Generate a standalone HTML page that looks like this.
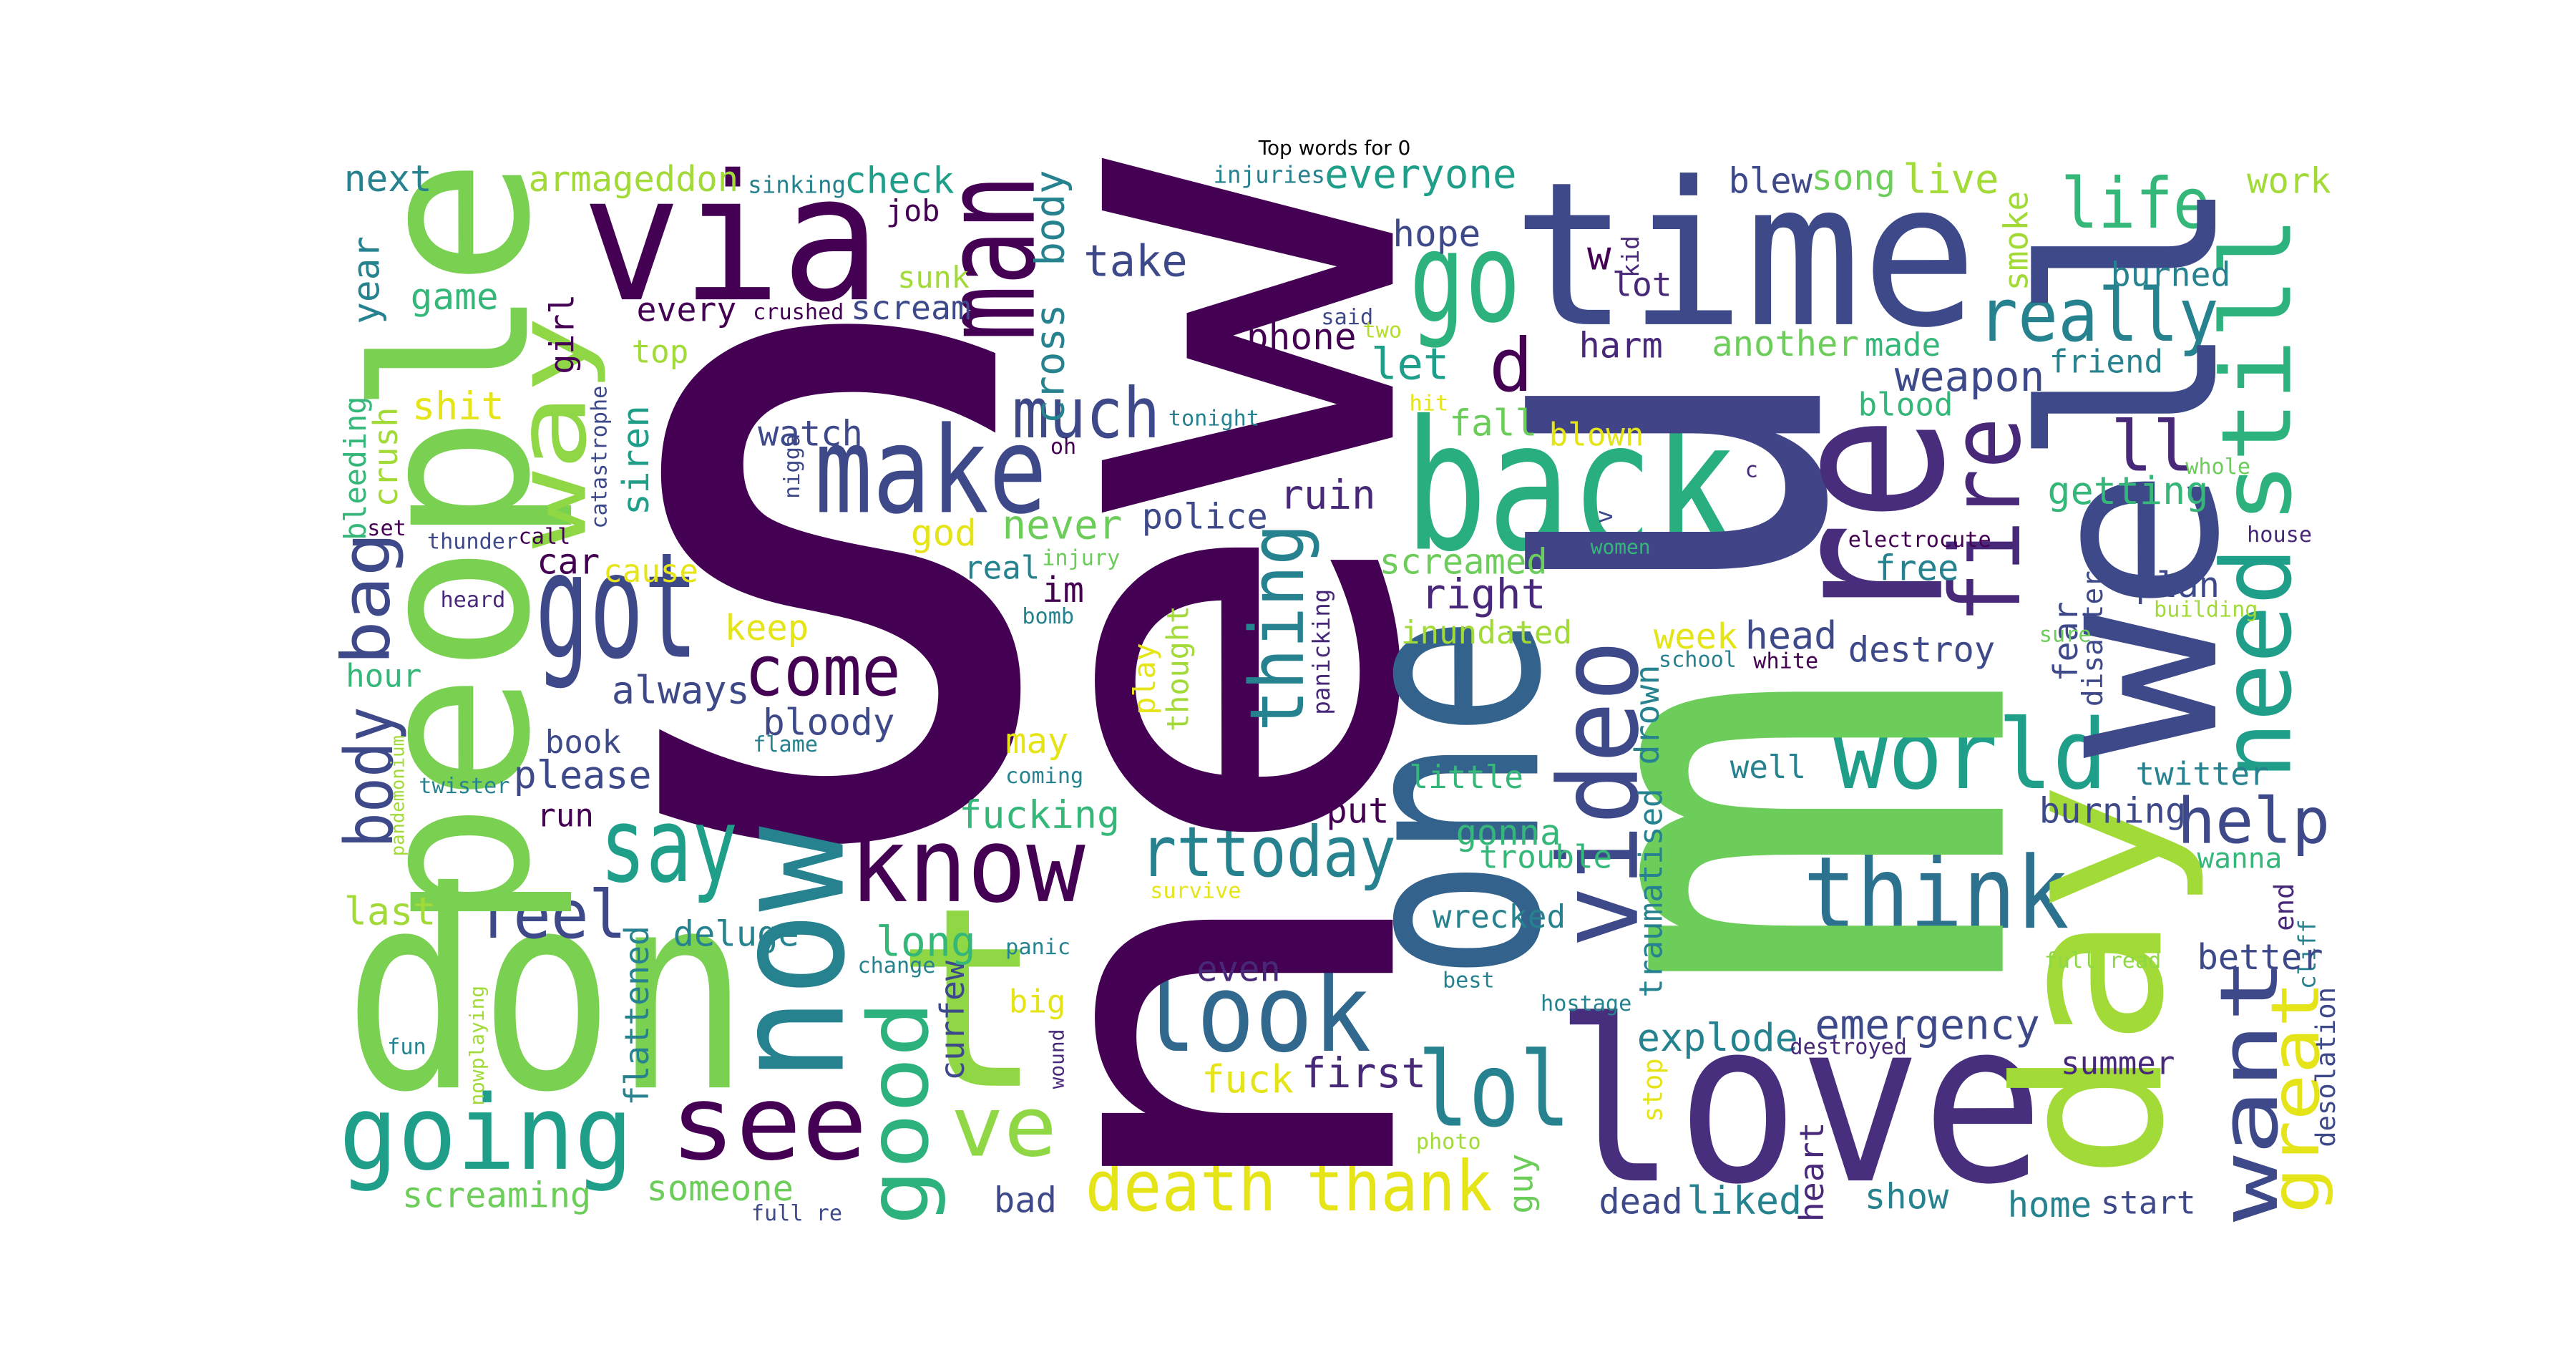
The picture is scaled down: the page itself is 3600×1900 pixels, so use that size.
<!DOCTYPE html>
<html><head><meta charset="utf-8">
<style>
html,body{margin:0;padding:0;background:#fff;}
svg{display:block;}
text{font-family:"DejaVu Sans Mono","Liberation Mono",monospace;}
.t{font-family:"DejaVu Sans","Liberation Sans",sans-serif;}
</style></head>
<body>
<svg width="3600" height="1900" viewBox="0 0 1550 818" preserveAspectRatio="none" xmlns="http://www.w3.org/2000/svg">
<rect x="0" y="0" width="1550" height="818" fill="#ffffff"/>
<text class="t" x="803" y="93" font-size="12" text-anchor="middle" fill="#000">Top words for 0</text>
<g>
<text x="340" y="500" font-size="545" fill="#440154">s</text>
<text x="350" y="180" font-size="105" textLength="180" lengthAdjust="spacingAndGlyphs" fill="#440154">via</text>
<text x="910" y="195" font-size="120" textLength="280" lengthAdjust="spacingAndGlyphs" fill="#3e4989">time</text>
<text x="845" y="330" font-size="108" textLength="200" lengthAdjust="spacingAndGlyphs" fill="#29af7f">back</text>
<text x="848" y="193" font-size="75" textLength="67" lengthAdjust="spacingAndGlyphs" fill="#2db27d">go</text>
<text x="490" y="308" font-size="72" textLength="140" lengthAdjust="spacingAndGlyphs" fill="#3e4989">make</text>
<text x="322" y="395" font-size="88" textLength="98" lengthAdjust="spacingAndGlyphs" fill="#3e4989">got</text>
<text x="207" y="654" font-size="165" textLength="244" lengthAdjust="spacingAndGlyphs" fill="#7ad151">don</text>
<text x="538" y="653" font-size="150" fill="#8fd744">t</text>
<text x="935" y="710" font-size="135" textLength="295" lengthAdjust="spacingAndGlyphs" fill="#472f7d">love</text>
<text x="1103" y="474" font-size="58" textLength="165" lengthAdjust="spacingAndGlyphs" fill="#1f9e89">world</text>
<text x="1085" y="558" font-size="60" textLength="160" lengthAdjust="spacingAndGlyphs" fill="#2c718e">think</text>
<text x="361" y="530" font-size="62" textLength="83" lengthAdjust="spacingAndGlyphs" fill="#1f9e89">say</text>
<text x="511" y="542" font-size="62" textLength="142" lengthAdjust="spacingAndGlyphs" fill="#440154">know</text>
<text x="403" y="697" font-size="62" textLength="119" lengthAdjust="spacingAndGlyphs" fill="#440154">see</text>
<text x="204" y="703" font-size="62" textLength="177" lengthAdjust="spacingAndGlyphs" fill="#1f9e89">going</text>
<text x="685" y="632" font-size="65" textLength="140" lengthAdjust="spacingAndGlyphs" fill="#31688e">look</text>
<text x="853" y="677" font-size="62" textLength="92" lengthAdjust="spacingAndGlyphs" fill="#26828e">lol</text>
<text x="572" y="695" font-size="50" textLength="64" lengthAdjust="spacingAndGlyphs" fill="#8fd744">ve</text>
<text x="448" y="418" font-size="42" textLength="94" lengthAdjust="spacingAndGlyphs" fill="#440154">come</text>
<text x="609" y="263" font-size="42" textLength="89" lengthAdjust="spacingAndGlyphs" fill="#3e4989">much</text>
<text x="686" y="527" font-size="42" textLength="154" lengthAdjust="spacingAndGlyphs" fill="#26828e">rttoday</text>
<text x="653" y="728" font-size="42" textLength="115" lengthAdjust="spacingAndGlyphs" fill="#e5e419">death</text>
<text x="786" y="728" font-size="42" textLength="112" lengthAdjust="spacingAndGlyphs" fill="#e5e419">thank</text>
<text x="1190" y="205" font-size="44" textLength="145" lengthAdjust="spacingAndGlyphs" fill="#26828e">really</text>
<text x="1240" y="137" font-size="42" textLength="90" lengthAdjust="spacingAndGlyphs" fill="#35b779">life</text>
<text x="1310" y="507" font-size="38" textLength="92" lengthAdjust="spacingAndGlyphs" fill="#3e4989">help</text>
<text x="286" y="564" font-size="40" textLength="91" lengthAdjust="spacingAndGlyphs" fill="#3e4989">feel</text>
<text x="1270" y="283" font-size="42" fill="#482878">ll</text>
<text x="896" y="235" font-size="44" fill="#440154">d</text>
<text transform="translate(838,735) rotate(-90)" font-size="320" textLength="640" lengthAdjust="spacingAndGlyphs" fill="#440154">new</text>
<text transform="translate(1205,602) rotate(-90)" font-size="390" textLength="202" lengthAdjust="spacingAndGlyphs" fill="#6ccd5a">m</text>
<text transform="translate(1095,366) rotate(-90)" font-size="325" textLength="150" lengthAdjust="spacingAndGlyphs" fill="#414487">u</text>
<text transform="translate(1168,378) rotate(-90)" font-size="130" textLength="128" lengthAdjust="spacingAndGlyphs" fill="#472d7b">re</text>
<text transform="translate(925,590) rotate(-90)" font-size="155" textLength="220" lengthAdjust="spacingAndGlyphs" fill="#33638d">one</text>
<text transform="translate(985,570) rotate(-90)" font-size="66" textLength="185" lengthAdjust="spacingAndGlyphs" fill="#3e4989">video</text>
<text transform="translate(317,560) rotate(-90)" font-size="128" textLength="465" lengthAdjust="spacingAndGlyphs" fill="#7ad151">people</text>
<text transform="translate(1333,456) rotate(-90)" font-size="145" textLength="350" lengthAdjust="spacingAndGlyphs" fill="#3e4989">well</text>
<text transform="translate(1300,710) rotate(-90)" font-size="122" textLength="240" lengthAdjust="spacingAndGlyphs" fill="#a2da37">day</text>
<text transform="translate(507,651) rotate(-90)" font-size="92" textLength="154" lengthAdjust="spacingAndGlyphs" fill="#26828e">now</text>
<text transform="translate(558,737) rotate(-90)" font-size="50" textLength="135" lengthAdjust="spacingAndGlyphs" fill="#2db27d">good</text>
<text transform="translate(622,205) rotate(-90)" font-size="77" textLength="100" lengthAdjust="spacingAndGlyphs" fill="#440154">man</text>
<text transform="translate(352,330) rotate(-90)" font-size="58" textLength="140" lengthAdjust="spacingAndGlyphs" fill="#8fd744">way</text>
<text transform="translate(784,440) rotate(-90)" font-size="45" textLength="125" lengthAdjust="spacingAndGlyphs" fill="#26828e">thing</text>
<text transform="translate(1215,375) rotate(-90)" font-size="58" textLength="124" lengthAdjust="spacingAndGlyphs" fill="#482878">fire</text>
<text transform="translate(1378,469) rotate(-90)" font-size="58" textLength="140" lengthAdjust="spacingAndGlyphs" fill="#1f9e89">need</text>
<text transform="translate(1378,315) rotate(-90)" font-size="58" textLength="185" lengthAdjust="spacingAndGlyphs" fill="#2db27d">still</text>
<text transform="translate(1370,735) rotate(-90)" font-size="48" textLength="160" lengthAdjust="spacingAndGlyphs" fill="#3e4989">want</text>
<text transform="translate(1395,730) rotate(-90)" font-size="40" textLength="140" lengthAdjust="spacingAndGlyphs" fill="#e5e419">great</text>
<text transform="translate(236,510) rotate(-90)" font-size="40" textLength="85" lengthAdjust="spacingAndGlyphs" fill="#3e4989">body</text>
<text transform="translate(234,400) rotate(-90)" font-size="40" textLength="80" lengthAdjust="spacingAndGlyphs" fill="#3e4989">bag</text>
<text transform="translate(345,225) rotate(-90)" font-size="20" fill="#440154">girl</text>
<text transform="translate(228,195) rotate(-90)" font-size="22" fill="#26828e">year</text>
<text transform="translate(640,255) rotate(-90)" font-size="24" fill="#26828e">cross</text>
<text transform="translate(640,160) rotate(-90)" font-size="24" fill="#26828e">body</text>
<text transform="translate(1220,175) rotate(-90)" font-size="20" fill="#a2da37">smoke</text>
<text transform="translate(986,167) rotate(-90)" font-size="14" fill="#482878">kid</text>
<text transform="translate(390,310) rotate(-90)" font-size="22" fill="#1f9e89">siren</text>
<text transform="translate(365,318) rotate(-90)" font-size="13" fill="#3e4989">catastrophe</text>
<text transform="translate(481,300) rotate(-90)" font-size="13" fill="#3e4989">nigga</text>
<text transform="translate(220,325) rotate(-90)" font-size="18" fill="#35b779">bleeding</text>
<text transform="translate(239,305) rotate(-90)" font-size="20" fill="#a2da37">crush</text>
<text transform="translate(243,515) rotate(-90)" font-size="11" fill="#a2da37">pandemonium</text>
<text transform="translate(800,430) rotate(-90)" font-size="14" fill="#482878">panicking</text>
<text transform="translate(695,430) rotate(-90)" font-size="18" fill="#e5e419">play</text>
<text transform="translate(715,440) rotate(-90)" font-size="18" fill="#a2da37">thought</text>
<text transform="translate(1250,410) rotate(-90)" font-size="20" fill="#3e4989">fear</text>
<text transform="translate(1265,425) rotate(-90)" font-size="17" fill="#3e4989">disaster</text>
<text transform="translate(998,460) rotate(-90)" font-size="20" fill="#26828e">drown</text>
<text transform="translate(1000,600) rotate(-90)" font-size="19" fill="#26828e">traumatised</text>
<text transform="translate(970,315) rotate(-90)" font-size="14" fill="#3e4989">v</text>
<text transform="translate(390,665) rotate(-90)" font-size="20" fill="#26828e">flattened</text>
<text transform="translate(580,650) rotate(-90)" font-size="20" fill="#3e4989">curfew</text>
<text transform="translate(640,655) rotate(-90)" font-size="12" fill="#482878">wound</text>
<text transform="translate(291,665) rotate(-90)" font-size="12" fill="#a2da37">nowplaying</text>
<text transform="translate(1380,560) rotate(-90)" font-size="16" fill="#482878">end</text>
<text transform="translate(1393,595) rotate(-90)" font-size="14" fill="#26828e">cliff</text>
<text transform="translate(1405,690) rotate(-90)" font-size="16" fill="#3e4989">desolation</text>
<text transform="translate(922,730) rotate(-90)" font-size="20" fill="#6ccd5a">guy</text>
<text transform="translate(1000,675) rotate(-90)" font-size="16" fill="#e5e419">stop</text>
<text transform="translate(1097,735) rotate(-90)" font-size="20" fill="#482878">heart</text>
<text x="207" y="115" font-size="22" fill="#26828e">next</text>
<text x="318" y="115" font-size="21" fill="#a2da37">armageddon</text>
<text x="450" y="116" font-size="14" fill="#26828e">sinking</text>
<text x="508" y="116" font-size="22" fill="#1f9e89">check</text>
<text x="730" y="110" font-size="14" fill="#26828e">injuries</text>
<text x="797" y="113" font-size="24" fill="#1f9e89">everyone</text>
<text x="1040" y="116" font-size="21" fill="#3e4989">blew</text>
<text x="1090" y="114" font-size="21" fill="#6ccd5a">song</text>
<text x="1145" y="116" font-size="24" fill="#a2da37">live</text>
<text x="1352" y="116" font-size="21" fill="#a2da37">work</text>
<text x="533" y="133" font-size="18" fill="#440154">job</text>
<text x="838" y="148" font-size="22" fill="#3e4989">hope</text>
<text x="652" y="166" font-size="26" fill="#3e4989">take</text>
<text x="955" y="162" font-size="24" fill="#440154">w</text>
<text x="970" y="178" font-size="20" fill="#482878">lot</text>
<text x="1270" y="172" font-size="20" fill="#26828e">burned</text>
<text x="247" y="186" font-size="22" fill="#35b779">game</text>
<text x="383" y="193" font-size="20" fill="#440154">every</text>
<text x="453" y="192" font-size="13" fill="#440154">crushed</text>
<text x="512" y="192" font-size="20" fill="#3e4989">scream</text>
<text x="540" y="173" font-size="18" fill="#a2da37">sunk</text>
<text x="795" y="195" font-size="13" fill="#3e4989">said</text>
<text x="820" y="203" font-size="13" fill="#b5de2b">two</text>
<text x="750" y="210" font-size="22" fill="#440154">phone</text>
<text x="950" y="215" font-size="21" fill="#482878">harm</text>
<text x="1030" y="214" font-size="21" fill="#6ccd5a">another</text>
<text x="1122" y="214" font-size="19" fill="#35b779">made</text>
<text x="1233" y="224" font-size="19" fill="#26828e">friend</text>
<text x="380" y="218" font-size="19" fill="#a2da37">top</text>
<text x="825" y="228" font-size="26" fill="#1f9e89">let</text>
<text x="1140" y="235" font-size="25" fill="#3e4989">weapon</text>
<text x="248" y="252" font-size="23" fill="#e5e419">shit</text>
<text x="848" y="247" font-size="13" fill="#e5e419">hit</text>
<text x="703" y="256" font-size="13" fill="#26828e">tonight</text>
<text x="872" y="262" font-size="22" fill="#6ccd5a">fall</text>
<text x="1118" y="250" font-size="19" fill="#35b779">blood</text>
<text x="456" y="268" font-size="21" fill="#3e4989">watch</text>
<text x="632" y="273" font-size="13" fill="#440154">oh</text>
<text x="932" y="268" font-size="19" fill="#e5e419">blown</text>
<text x="1050" y="287" font-size="13" fill="#482878">c</text>
<text x="1315" y="285" font-size="13" fill="#6ccd5a">whole</text>
<text x="1232" y="303" font-size="23" fill="#35b779">getting</text>
<text x="770" y="306" font-size="24" fill="#482878">ruin</text>
<text x="221" y="322" font-size="13" fill="#440154">set</text>
<text x="257" y="330" font-size="13" fill="#3e4989">thunder</text>
<text x="312" y="327" font-size="13" fill="#440154">call</text>
<text x="548" y="328" font-size="22" fill="#e5e419">god</text>
<text x="687" y="318" font-size="21" fill="#3e4989">police</text>
<text x="603" y="324" font-size="24" fill="#6ccd5a">never</text>
<text x="1112" y="329" font-size="13" fill="#440154">electrocute</text>
<text x="957" y="333" font-size="12" fill="#35b779">women</text>
<text x="1352" y="326" font-size="13" fill="#482878">house</text>
<text x="323" y="345" font-size="21" fill="#440154">car</text>
<text x="363" y="350" font-size="19" fill="#e5e419">cause</text>
<text x="627" y="340" font-size="13" fill="#6ccd5a">injury</text>
<text x="580" y="348" font-size="19" fill="#26828e">real</text>
<text x="1128" y="349" font-size="21" fill="#26828e">free</text>
<text x="830" y="345" font-size="21" fill="#6ccd5a">screamed</text>
<text x="627" y="362" font-size="21" fill="#440154">im</text>
<text x="1285" y="359" font-size="21" fill="#3e4989">plan</text>
<text x="265" y="365" font-size="13" fill="#482878">heard</text>
<text x="615" y="375" font-size="13" fill="#26828e">bomb</text>
<text x="855" y="366" font-size="25" fill="#482878">right</text>
<text x="1227" y="386" font-size="13" fill="#6ccd5a">sure</text>
<text x="1296" y="371" font-size="13" fill="#a2da37">building</text>
<text x="436" y="385" font-size="21" fill="#e5e419">keep</text>
<text x="843" y="387" font-size="19" fill="#a2da37">inundated</text>
<text x="995" y="390" font-size="21" fill="#e5e419">week</text>
<text x="1050" y="390" font-size="23" fill="#3e4989">head</text>
<text x="998" y="401" font-size="13" fill="#26828e">school</text>
<text x="1055" y="402" font-size="13" fill="#440154">white</text>
<text x="1112" y="398" font-size="21" fill="#3e4989">destroy</text>
<text x="368" y="423" font-size="23" fill="#3e4989">always</text>
<text x="208" y="413" font-size="19" fill="#35b779">hour</text>
<text x="459" y="442" font-size="22" fill="#3e4989">bloody</text>
<text x="328" y="453" font-size="19" fill="#3e4989">book</text>
<text x="453" y="452" font-size="13" fill="#26828e">flame</text>
<text x="605" y="453" font-size="21" fill="#e5e419">may</text>
<text x="309" y="474" font-size="23" fill="#3e4989">please</text>
<text x="252" y="477" font-size="13" fill="#26828e">twister</text>
<text x="848" y="474" font-size="19" fill="#35b779">little</text>
<text x="1041" y="468" font-size="19" fill="#26828e">well</text>
<text x="605" y="471" font-size="13" fill="#26828e">coming</text>
<text x="1285" y="472" font-size="19" fill="#26828e">twitter</text>
<text x="323" y="497" font-size="19" fill="#440154">run</text>
<text x="577" y="498" font-size="23" fill="#35b779">fucking</text>
<text x="798" y="495" font-size="21" fill="#440154">put</text>
<text x="1227" y="495" font-size="21" fill="#3e4989">burning</text>
<text x="876" y="508" font-size="21" fill="#35b779">gonna</text>
<text x="890" y="522" font-size="19" fill="#35b779">trouble</text>
<text x="1322" y="522" font-size="17" fill="#35b779">wanna</text>
<text x="207" y="556" font-size="23" fill="#a2da37">last</text>
<text x="692" y="540" font-size="13" fill="#e5e419">survive</text>
<text x="405" y="569" font-size="21" fill="#26828e">deluge</text>
<text x="862" y="558" font-size="19" fill="#26828e">wrecked</text>
<text x="527" y="575" font-size="25" fill="#35b779">long</text>
<text x="605" y="574" font-size="13" fill="#26828e">panic</text>
<text x="720" y="590" font-size="21" fill="#482878">even</text>
<text x="1322" y="583" font-size="21" fill="#3e4989">better</text>
<text x="1230" y="582" font-size="13" fill="#8fd744">full read</text>
<text x="516" y="585" font-size="13" fill="#26828e">change</text>
<text x="868" y="594" font-size="13" fill="#26828e">best</text>
<text x="607" y="609" font-size="19" fill="#e5e419">big</text>
<text x="927" y="608" font-size="13" fill="#26828e">hostage</text>
<text x="1092" y="625" font-size="25" fill="#3e4989">emergency</text>
<text x="985" y="632" font-size="23" fill="#26828e">explode</text>
<text x="1077" y="634" font-size="13" fill="#482878">destroyed</text>
<text x="233" y="634" font-size="13" fill="#26828e">fun</text>
<text x="783" y="654" font-size="25" fill="#482878">first</text>
<text x="723" y="657" font-size="23" fill="#e5e419">fuck</text>
<text x="1240" y="646" font-size="19" fill="#482878">summer</text>
<text x="852" y="691" font-size="13" fill="#a2da37">photo</text>
<text x="242" y="726" font-size="21" fill="#6ccd5a">screaming</text>
<text x="389" y="722" font-size="21" fill="#6ccd5a">someone</text>
<text x="598" y="729" font-size="21" fill="#3e4989">bad</text>
<text x="962" y="730" font-size="21" fill="#3e4989">dead</text>
<text x="1015" y="730" font-size="23" fill="#26828e">liked</text>
<text x="1122" y="727" font-size="21" fill="#26828e">show</text>
<text x="1208" y="732" font-size="21" fill="#26828e">home</text>
<text x="1264" y="730" font-size="19" fill="#3e4989">start</text>
<text x="452" y="734" font-size="13" fill="#3e4989">full re</text>
</g>
</svg>
</body></html>
